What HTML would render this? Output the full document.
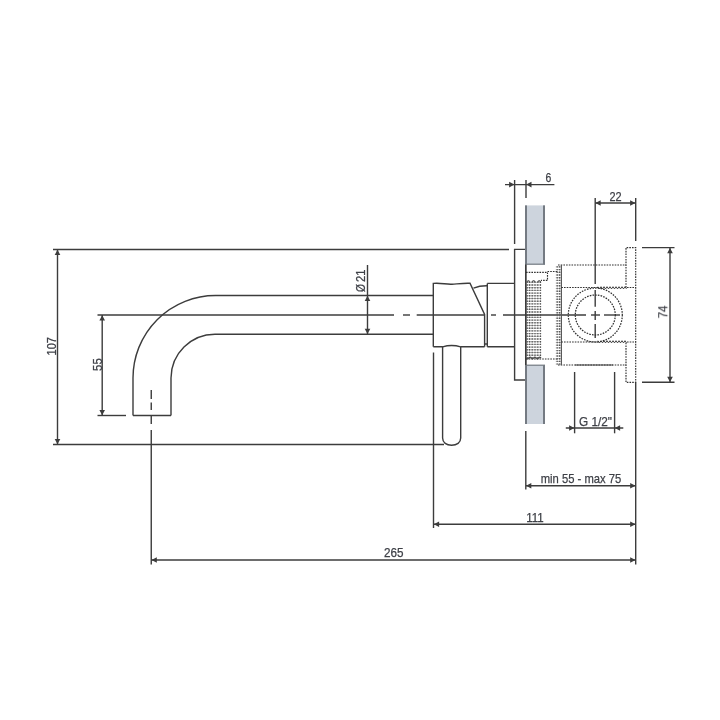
<!DOCTYPE html>
<html lang="en">
<head>
<meta charset="utf-8">
<title>Technical drawing</title>
<style>
html,body{margin:0;padding:0;background:#fff;}
body{width:720px;height:720px;overflow:hidden;}
svg{display:block;}
.s line,.s path{stroke:#3c3c3c;stroke-width:1.4;fill:none;}
.a{fill:#3c3c3c;stroke:none;}
.d path,.d circle{stroke:#303030;stroke-width:1.15;fill:none;stroke-dasharray:1.6 1.1;}
.d .z{stroke-dasharray:none;stroke-width:0.9;}
.d circle{stroke-width:1.25;stroke-dasharray:1.6 1.15;}
.m line{stroke:#333;stroke-width:1.1;stroke-dasharray:1.4 1.3;}
.mh line{stroke:#777;stroke-width:0.6;}
text{font-family:"Liberation Sans",sans-serif;fill:#3e4047;stroke:#3e4047;stroke-width:0.25;}
</style>
</head>
<body>
<svg width="720" height="720" viewBox="0 0 720 720">
<rect width="720" height="720" fill="#ffffff"/>
<g class="s">
<line x1="53" y1="249.5" x2="509" y2="249.5" />
<line x1="53" y1="444.5" x2="444" y2="444.5" />
<line x1="57.5" y1="250" x2="57.5" y2="444" />
<line x1="97.5" y1="315" x2="394" y2="315" />
<line x1="97.5" y1="415.5" x2="126" y2="415.5" />
<line x1="102.2" y1="315" x2="102.2" y2="415.5" />
<path d="M133,415.5 V378 A82.5,82.5 0 0 1 215.5,295.5 H433.3"/>
<path d="M171,415.5 V378 A44,44 0 0 1 215,334.2 H433.3"/>
<line x1="133" y1="415.5" x2="171" y2="415.5" />
<line x1="151.25" y1="390" x2="151.25" y2="399" />
<line x1="151.25" y1="402.5" x2="151.25" y2="410" />
<line x1="151.25" y1="416" x2="151.25" y2="424" />
<line x1="151.25" y1="430" x2="151.25" y2="564.5" />
<line x1="151.5" y1="560" x2="635.5" y2="560" />
<line x1="433.5" y1="524.2" x2="635.5" y2="524.2" />
<line x1="433.5" y1="352.5" x2="433.5" y2="528" />
<line x1="526" y1="485.7" x2="635.5" y2="485.7" />
<line x1="525.8" y1="431" x2="525.8" y2="489.5" />
<line x1="635.7" y1="198" x2="635.7" y2="241" />
<line x1="635.7" y1="382.5" x2="635.7" y2="564.5" />
<line x1="595.2" y1="203" x2="635.5" y2="203" />
<line x1="595.2" y1="198" x2="595.2" y2="284" />
<line x1="505" y1="184.6" x2="554.4" y2="184.6" />
<line x1="514.6" y1="180" x2="514.6" y2="244" />
<line x1="526" y1="180" x2="526" y2="198" />
<line x1="670" y1="248" x2="670" y2="382" />
<line x1="642" y1="247.6" x2="674.5" y2="247.6" />
<line x1="642" y1="382.2" x2="674.5" y2="382.2" />
<line x1="565.8" y1="428" x2="623.3" y2="428" />
<line x1="574.6" y1="372" x2="574.6" y2="433.3" />
<line x1="614.6" y1="372" x2="614.6" y2="433.3" />
<line x1="367.5" y1="265" x2="367.5" y2="334" />
<line x1="403" y1="315" x2="410" y2="315" />
<line x1="416.7" y1="315" x2="484" y2="315" />
<line x1="491" y1="315" x2="496" y2="315" />
<line x1="503" y1="315" x2="586" y2="315" />
<line x1="591" y1="315" x2="600" y2="315" />
<line x1="604" y1="315" x2="620" y2="315" />
<line x1="595.2" y1="290" x2="595.2" y2="306.7" />
<line x1="595.2" y1="311" x2="595.2" y2="320" />
<line x1="595.2" y1="324" x2="595.2" y2="338" />
<path d="M433.3,346.8 V283.4 C441,282.6 446,284.6 452,284.2 C458,283.8 464,283 470,283.3 L484.6,314.4 V346.8"/>
<path d="M433.3,346.8 H442.6 Q451.6,344.2 460.7,346.8 H484.6"/>
<path d="M473.5,288.2 Q480,285.6 487.3,285.8"/>
<path d="M487.3,283.4 H514.6 M487.3,346.8 H514.6 M487.3,283.4 V346.8 M484.6,344 H487.3"/>
<path d="M514.6,249.4 H525.7 V380 H514.6 Z"/>
<path d="M442.6,346.8 V438 C442.6,442.5 446.5,445.3 451.6,445.3 C456.8,445.3 460.7,442.5 460.7,438 V346.8"/>
</g>
<polygon class="a" points="57.50,249.80 54.70,255.10 60.30,255.10"/>
<polygon class="a" points="57.50,444.20 54.70,438.90 60.30,438.90"/>
<polygon class="a" points="102.20,315.30 99.40,320.60 105.00,320.60"/>
<polygon class="a" points="102.20,415.20 99.40,409.90 105.00,409.90"/>
<polygon class="a" points="151.50,560.00 156.80,557.20 156.80,562.80"/>
<polygon class="a" points="635.50,560.00 630.20,557.20 630.20,562.80"/>
<polygon class="a" points="433.80,524.20 439.10,521.40 439.10,527.00"/>
<polygon class="a" points="635.50,524.20 630.20,521.40 630.20,527.00"/>
<polygon class="a" points="526.00,485.70 531.30,482.90 531.30,488.50"/>
<polygon class="a" points="635.50,485.70 630.20,482.90 630.20,488.50"/>
<polygon class="a" points="595.40,203.00 600.70,200.20 600.70,205.80"/>
<polygon class="a" points="635.40,203.00 630.10,200.20 630.10,205.80"/>
<polygon class="a" points="514.40,184.60 509.10,181.80 509.10,187.40"/>
<polygon class="a" points="526.20,184.60 531.50,181.80 531.50,187.40"/>
<polygon class="a" points="670.00,247.90 667.20,253.20 672.80,253.20"/>
<polygon class="a" points="670.00,382.00 667.20,376.70 672.80,376.70"/>
<polygon class="a" points="574.40,428.00 569.10,425.20 569.10,430.80"/>
<polygon class="a" points="614.80,428.00 620.10,425.20 620.10,430.80"/>
<polygon class="a" points="367.50,295.80 364.70,301.10 370.30,301.10"/>
<polygon class="a" points="367.50,334.00 364.70,328.70 370.30,328.70"/>
<rect x="525" y="205.4" width="20" height="58.99999999999997" fill="#cdd4dd"/>
<rect x="525" y="205.4" width="2" height="58.99999999999997" fill="#747a82"/>
<rect x="543" y="205.4" width="2" height="58.99999999999997" fill="#747a82"/>
<rect x="525" y="365" width="20" height="59" fill="#cdd4dd"/>
<rect x="525" y="365" width="2" height="59" fill="#747a82"/>
<rect x="543" y="365" width="2" height="59" fill="#747a82"/>
<rect x="525" y="263.6" width="20" height="1.2" fill="#747a82"/>
<rect x="525" y="364.6" width="20" height="1.2" fill="#747a82"/>
<g class="s"><line x1="525.8" y1="264.4" x2="525.8" y2="365"/></g>
<g class="d">
<path d="M526,272.3 H547.5 V280.4 H541 M547.5,271.5 H557.5"/>
<path d="M526,359 H558"/>
<path d="M558,265 H626 M558,365 H626"/>
<path d="M561.4,265 V365" style="stroke-dasharray:none;stroke:#555"/>
<path d="M561.3,287.5 H598 M561.3,342 H598"/>
<path d="M598.0,286.7 L599.5,288.9 L601.0,286.7 L602.5,288.9 L604.0,286.7 L605.5,288.9 L607.0,286.7 L608.5,288.9 L610.0,286.7 L611.5,288.9 L613.0,286.7 L614.5,288.9 L616.0,286.7 L617.5,288.9 L619.0,286.7 L620.5,288.9 L622.0,286.7 L623.5,288.9 L625.0,286.7 L626.5,288.9" class="z"/>
<path d="M598.0,340.7 L599.5,342.9 L601.0,340.7 L602.5,342.9 L604.0,340.7 L605.5,342.9 L607.0,340.7 L608.5,342.9 L610.0,340.7 L611.5,342.9 L613.0,340.7 L614.5,342.9 L616.0,340.7 L617.5,342.9 L619.0,340.7 L620.5,342.9 L622.0,340.7 L623.5,342.9 L625.0,340.7 L626.5,342.9" class="z"/>
<path d="M627,287.5 H635.7 M627,342 H635.7"/>
<path d="M626,287.5 V247.6 H635.7 V382.4 H626 V342"/>
<circle cx="595.3" cy="315" r="27"/><circle cx="595.3" cy="315" r="20"/>
</g>
<g class="s"><line x1="575" y1="365" x2="613" y2="365" style="stroke-width:1"/></g>
<g class="m">
<line x1="527.2" y1="281.6" x2="527.2" y2="358"/>
<line x1="529.6" y1="281.6" x2="529.6" y2="358"/>
<line x1="532.2" y1="281.6" x2="532.2" y2="358"/>
<line x1="535" y1="281.6" x2="535" y2="358"/>
<line x1="537.8" y1="281.6" x2="537.8" y2="358"/>
<line x1="540.5" y1="281.6" x2="540.5" y2="358"/>
<line x1="557.2" y1="266.2" x2="557.2" y2="364.5"/>
<line x1="559.6" y1="266.2" x2="559.6" y2="364.5"/>
</g>
<g class="mh">
<line x1="526.5" y1="282.30" x2="541.2" y2="282.30"/>
<line x1="526.5" y1="285.00" x2="541.2" y2="285.00"/>
<line x1="526.5" y1="287.70" x2="541.2" y2="287.70"/>
<line x1="526.5" y1="290.40" x2="541.2" y2="290.40"/>
<line x1="526.5" y1="293.10" x2="541.2" y2="293.10"/>
<line x1="526.5" y1="295.80" x2="541.2" y2="295.80"/>
<line x1="526.5" y1="298.50" x2="541.2" y2="298.50"/>
<line x1="526.5" y1="301.20" x2="541.2" y2="301.20"/>
<line x1="526.5" y1="303.90" x2="541.2" y2="303.90"/>
<line x1="526.5" y1="306.60" x2="541.2" y2="306.60"/>
<line x1="526.5" y1="309.30" x2="541.2" y2="309.30"/>
<line x1="526.5" y1="312.00" x2="541.2" y2="312.00"/>
<line x1="526.5" y1="314.70" x2="541.2" y2="314.70"/>
<line x1="526.5" y1="317.40" x2="541.2" y2="317.40"/>
<line x1="526.5" y1="320.10" x2="541.2" y2="320.10"/>
<line x1="526.5" y1="322.80" x2="541.2" y2="322.80"/>
<line x1="526.5" y1="325.50" x2="541.2" y2="325.50"/>
<line x1="526.5" y1="328.20" x2="541.2" y2="328.20"/>
<line x1="526.5" y1="330.90" x2="541.2" y2="330.90"/>
<line x1="526.5" y1="333.60" x2="541.2" y2="333.60"/>
<line x1="526.5" y1="336.30" x2="541.2" y2="336.30"/>
<line x1="526.5" y1="339.00" x2="541.2" y2="339.00"/>
<line x1="526.5" y1="341.70" x2="541.2" y2="341.70"/>
<line x1="526.5" y1="344.40" x2="541.2" y2="344.40"/>
<line x1="526.5" y1="347.10" x2="541.2" y2="347.10"/>
<line x1="526.5" y1="349.80" x2="541.2" y2="349.80"/>
<line x1="526.5" y1="352.50" x2="541.2" y2="352.50"/>
<line x1="526.5" y1="355.20" x2="541.2" y2="355.20"/>
<line x1="526.5" y1="357.90" x2="541.2" y2="357.90"/>
<line x1="555.8" y1="266.90" x2="561" y2="266.90"/>
<line x1="555.8" y1="269.60" x2="561" y2="269.60"/>
<line x1="555.8" y1="272.30" x2="561" y2="272.30"/>
<line x1="555.8" y1="275.00" x2="561" y2="275.00"/>
<line x1="555.8" y1="277.70" x2="561" y2="277.70"/>
<line x1="555.8" y1="280.40" x2="561" y2="280.40"/>
<line x1="555.8" y1="283.10" x2="561" y2="283.10"/>
<line x1="555.8" y1="285.80" x2="561" y2="285.80"/>
<line x1="555.8" y1="288.50" x2="561" y2="288.50"/>
<line x1="555.8" y1="291.20" x2="561" y2="291.20"/>
<line x1="555.8" y1="293.90" x2="561" y2="293.90"/>
<line x1="555.8" y1="296.60" x2="561" y2="296.60"/>
<line x1="555.8" y1="299.30" x2="561" y2="299.30"/>
<line x1="555.8" y1="302.00" x2="561" y2="302.00"/>
<line x1="555.8" y1="304.70" x2="561" y2="304.70"/>
<line x1="555.8" y1="307.40" x2="561" y2="307.40"/>
<line x1="555.8" y1="310.10" x2="561" y2="310.10"/>
<line x1="555.8" y1="312.80" x2="561" y2="312.80"/>
<line x1="555.8" y1="315.50" x2="561" y2="315.50"/>
<line x1="555.8" y1="318.20" x2="561" y2="318.20"/>
<line x1="555.8" y1="320.90" x2="561" y2="320.90"/>
<line x1="555.8" y1="323.60" x2="561" y2="323.60"/>
<line x1="555.8" y1="326.30" x2="561" y2="326.30"/>
<line x1="555.8" y1="329.00" x2="561" y2="329.00"/>
<line x1="555.8" y1="331.70" x2="561" y2="331.70"/>
<line x1="555.8" y1="334.40" x2="561" y2="334.40"/>
<line x1="555.8" y1="337.10" x2="561" y2="337.10"/>
<line x1="555.8" y1="339.80" x2="561" y2="339.80"/>
<line x1="555.8" y1="342.50" x2="561" y2="342.50"/>
<line x1="555.8" y1="345.20" x2="561" y2="345.20"/>
<line x1="555.8" y1="347.90" x2="561" y2="347.90"/>
<line x1="555.8" y1="350.60" x2="561" y2="350.60"/>
<line x1="555.8" y1="353.30" x2="561" y2="353.30"/>
<line x1="555.8" y1="356.00" x2="561" y2="356.00"/>
<line x1="555.8" y1="358.70" x2="561" y2="358.70"/>
<line x1="555.8" y1="361.40" x2="561" y2="361.40"/>
<line x1="555.8" y1="364.10" x2="561" y2="364.10"/>
</g>
<g class="s" style="opacity:.8"><path d="M527.2,281.8 Q528.4,279.4 529.6,281.8 M532.2,281.8 Q533.6,279.4 535,281.8 M537.8,281.8 Q539.2,279.4 540.5,281.8"/></g>
<g class="s" style="opacity:.8"><path d="M526.5,358 q1.2,1.4 2.4,0 q1.2,-1.4 2.4,0 q1.2,1.4 2.4,0 q1.2,-1.4 2.4,0 q1.2,1.4 2.4,0 q1.2,-1.4 2.4,0"/></g>
<g opacity="0.999">
<text x="55.9" y="346.3" font-size="12.6" text-anchor="middle" transform="rotate(-90 55.9 346.3)" textLength="18.3" lengthAdjust="spacingAndGlyphs" >107</text>
<text x="101.6" y="364.6" font-size="12.6" text-anchor="middle" transform="rotate(-90 101.6 364.6)" textLength="12.6" lengthAdjust="spacingAndGlyphs" >55</text>
<text x="365.2" y="292" font-size="12.6" text-anchor="start" transform="rotate(-90 365.2 292)" textLength="8" lengthAdjust="spacingAndGlyphs" >Ø</text>
<text x="365.2" y="282" font-size="12.6" text-anchor="start" transform="rotate(-90 365.2 282)" textLength="12.6" lengthAdjust="spacingAndGlyphs" >21</text>
<text x="667.2" y="312" font-size="13" text-anchor="middle" transform="rotate(-90 667.2 312)" textLength="12.5" lengthAdjust="spacingAndGlyphs" >74</text>
<text x="393.8" y="557.3" font-size="12" text-anchor="middle" textLength="19.5" lengthAdjust="spacingAndGlyphs" >265</text>
<text x="535" y="521.8" font-size="12" text-anchor="middle" textLength="17.5" lengthAdjust="spacingAndGlyphs" >111</text>
<text x="581" y="483.4" font-size="13" text-anchor="middle" textLength="80.5" lengthAdjust="spacingAndGlyphs" >min 55 - max 75</text>
<text x="595.5" y="425.6" font-size="13.5" text-anchor="middle" textLength="33" lengthAdjust="spacingAndGlyphs" >G 1/2"</text>
<text x="615.6" y="200.6" font-size="13.5" text-anchor="middle" textLength="12.2" lengthAdjust="spacingAndGlyphs" >22</text>
<text x="548.5" y="181.6" font-size="13" text-anchor="middle" textLength="5.8" lengthAdjust="spacingAndGlyphs" >6</text>
</g>
</svg>
</body>
</html>
